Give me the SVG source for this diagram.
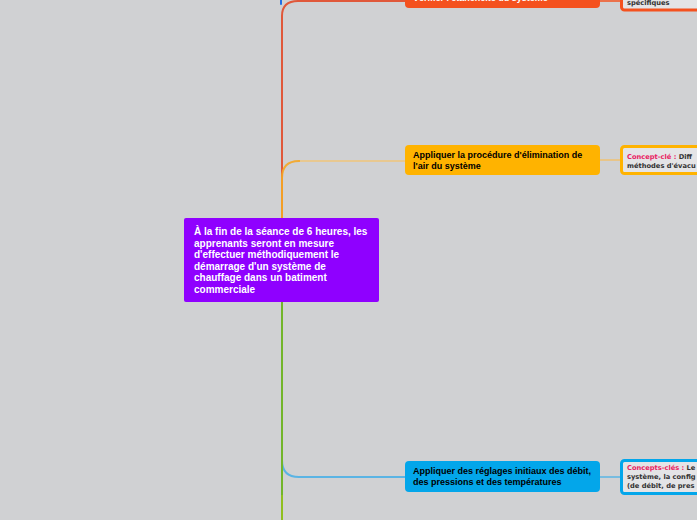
<svg xmlns="http://www.w3.org/2000/svg" width="697" height="520" viewBox="0 0 697 520">
<style>
.nt{font-family:"Liberation Sans",Arial,sans-serif;font-weight:bold;font-size:9px;fill:#000}
.ct{font-family:"Liberation Sans",Arial,sans-serif;font-weight:bold;font-size:10px;fill:#fff}
.wt{font-family:"Liberation Sans",Arial,sans-serif;font-weight:bold;font-size:9px;fill:#fff}
.kt{font-family:"DejaVu Sans",Verdana,sans-serif;font-weight:bold;font-size:6.7px;fill:#333}
.kk{fill:#e91e63}
.ln{fill:none;stroke-width:2;stroke-linecap:round}
</style>
<rect width="697" height="520" fill="#d0d1d3"/>
<g id="connectors">
  <path class="ln" d="M281,4 V0" stroke="#1e6ee8"/>
  <path class="ln" d="M282,218 V16 Q282,1 298,1 H405" stroke="#e0583a"/>
  <path class="ln" d="M282,218 V178 Q282,161 299,161 H405" stroke="#f5a623" stroke-opacity="0.9"/>
  <path d="M300,161 H405" stroke="#e8c890" stroke-width="2" fill="none"/>
  <path class="ln" d="M282,302 V460 Q282,477 299,477 H405" stroke="#5ab4e4"/>
  <path class="ln" d="M282,302 V520" stroke="#72b52a"/>
  <path d="M282,495 V520" stroke="#8fbf1f" stroke-width="2"/>
  <path d="M600,1 H620" stroke="#f4511e" stroke-width="1.5"/>
  <path d="M600,160 H620" stroke="#f0c070" stroke-width="1.5"/>
  <path d="M600,477 H620" stroke="#5ab4e4" stroke-width="1.5"/>
</g>
<g id="node-etancheite">
  <rect x="405" y="-25" width="195" height="33" rx="4" fill="#f4511e"/>
  <text class="wt" x="413" y="1">Vérifier l'étanchéité du système</text>
</g>
<g id="concept-etancheite">
  <rect x="621.5" y="-20" width="80" height="30" rx="3" fill="#e4e4e6" stroke="#f4511e" stroke-width="3"/>
  <text class="kt" x="627" y="5">spécifiques</text>
</g>
<g id="node-air">
  <rect x="405" y="145" width="195" height="30" rx="4" fill="#ffb300"/>
  <text class="nt" x="413" y="158">Appliquer la procédure d'élimination de</text>
  <text class="nt" x="413" y="169">l'air du système</text>
</g>
<g id="concept-air">
  <rect x="621.5" y="146.5" width="80" height="27" rx="3" fill="#e4e4e6" stroke="#ffb300" stroke-width="3"/>
  <text class="kt" x="627" y="159"><tspan class="kk">Concept-clé :</tspan> Diff</text>
  <text class="kt" x="627" y="168">méthodes d'évacu</text>
</g>
<g id="central">
  <rect x="184" y="218" width="195" height="84" rx="2" fill="#8f00ff"/>
  <text class="ct" x="194" y="235">À la fin de la séance de 6 heures, les</text>
  <text class="ct" x="194" y="246.5">apprenants seront en mesure</text>
  <text class="ct" x="194" y="258">d'effectuer méthodiquement le</text>
  <text class="ct" x="194" y="269.5">démarrage d'un système de</text>
  <text class="ct" x="194" y="281">chauffage dans un batiment</text>
  <text class="ct" x="194" y="292.5">commerciale</text>
</g>
<g id="node-reglages">
  <rect x="405" y="461" width="195" height="31" rx="4" fill="#03a6ea"/>
  <text class="nt" x="413" y="474">Appliquer des réglages initiaux des débit,</text>
  <text class="nt" x="413" y="485">des pressions et des températures</text>
</g>
<g id="concept-reglages">
  <rect x="621.5" y="460.5" width="80" height="33" rx="3" fill="#e4e4e6" stroke="#03a6ea" stroke-width="3"/>
  <text class="kt" x="627" y="470"><tspan class="kk">Concepts-clés :</tspan> Le</text>
  <text class="kt" x="627" y="479">système, la config</text>
  <text class="kt" x="627" y="488">(de débit, de pres</text>
</g>
</svg>
